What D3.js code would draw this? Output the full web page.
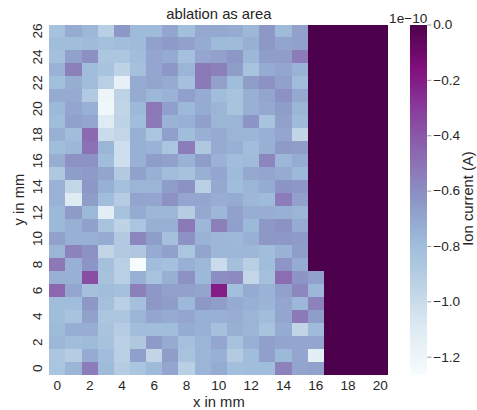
<!DOCTYPE html>
<html>
<head>
<meta charset="utf-8">
<script src="https://cdn.jsdelivr.net/npm/d3@7"></script>
<style>
  html, body { margin: 0; padding: 0; background: #fff; }
  text { font-family: "Liberation Sans", Arial, sans-serif; fill: #262626; }
  .domain { display: none; }
</style>
</head>
<body>
<div id="chart"></div>
<script>
// 軸的類別
const xValues = d3.range(0, 21);
const yValues = d3.range(26, -1, -1);
const xTickLabels = [0, 2, 4, 6, 8, 10, 12, 14, 16, 18, 20];
const yTickLabels = [0, 2, 4, 6, 8, 10, 12, 14, 16, 18, 20, 22, 24, 26];
const colorbarTicks = [0, -0.2, -0.4, -0.6, -0.8, -1.0, -1.2];
const colorDomain = [-1.265, 0];

// 離子電流，單位 1e-10 A，由上 (y=26) 到下 (y=0)，欄位 x=0..20
const ionCurrent = [
  [-0.83,-0.72,-0.77,-0.92,-0.64,-0.79,-0.79,-0.70,-0.81,-0.71,-0.71,-0.72,-0.77,-0.64,-0.79,-0.68,0,0,0,0,0],
  [-0.80,-0.80,-0.79,-0.82,-0.80,-0.79,-0.68,-0.65,-0.68,-0.72,-0.79,-0.79,-0.74,-0.64,-0.69,-0.68,0,0,0,0,0],
  [-0.82,-0.68,-0.61,-0.86,-0.86,-0.80,-0.70,-0.72,-0.82,-0.70,-0.68,-0.64,-0.77,-0.66,-0.66,-0.54,0,0,0,0,0],
  [-0.75,-0.55,-0.80,-0.84,-0.95,-0.82,-0.70,-0.64,-0.76,-0.53,-0.55,-0.66,-0.84,-0.72,-0.70,-0.75,0,0,0,0,0],
  [-0.81,-0.73,-0.80,-0.92,-1.15,-0.72,-0.69,-0.72,-0.82,-0.53,-0.68,-0.80,-0.66,-0.62,-0.68,-0.80,0,0,0,0,0],
  [-0.72,-0.72,-0.88,-1.20,-0.95,-0.72,-0.77,-0.75,-0.67,-0.72,-0.80,-0.84,-0.74,-0.69,-0.62,-0.71,0,0,0,0,0],
  [-0.78,-0.70,-0.74,-1.22,-0.96,-0.78,-0.52,-0.67,-0.78,-0.72,-0.76,-0.84,-0.74,-0.71,-0.66,-0.76,0,0,0,0,0],
  [-0.80,-0.68,-0.70,-1.10,-0.95,-0.80,-0.53,-0.75,-0.74,-0.67,-0.76,-0.76,-0.63,-0.84,-0.68,-0.79,0,0,0,0,0],
  [-0.74,-0.80,-0.47,-1.00,-0.97,-0.74,-0.85,-0.67,-0.80,-0.74,-0.72,-0.76,-0.76,-0.74,-0.70,-0.96,0,0,0,0,0],
  [-0.80,-0.77,-0.50,-0.76,-1.02,-0.74,-0.75,-0.85,-0.54,-0.87,-0.72,-0.74,-0.80,-0.74,-0.65,-0.66,0,0,0,0,0],
  [-0.73,-0.62,-0.62,-0.80,-1.02,-0.74,-0.66,-0.68,-0.75,-0.66,-0.75,-0.80,-0.79,-0.57,-0.77,-0.72,0,0,0,0,0],
  [-0.87,-0.66,-0.65,-0.69,-0.88,-0.68,-0.74,-0.80,-0.83,-0.74,-0.70,-0.79,-0.71,-0.70,-0.72,-0.78,0,0,0,0,0],
  [-0.75,-0.97,-0.64,-0.74,-0.82,-0.76,-0.76,-0.66,-0.62,-0.92,-0.71,-0.80,-0.76,-0.72,-0.63,-0.64,0,0,0,0,0],
  [-0.75,-1.10,-0.66,-0.80,-0.90,-0.69,-0.70,-0.62,-0.70,-0.70,-0.73,-0.72,-0.77,-0.79,-0.54,-0.68,0,0,0,0,0],
  [-0.78,-0.65,-0.78,-1.12,-0.83,-0.72,-0.77,-0.77,-0.90,-0.71,-0.77,-0.68,-0.73,-0.73,-0.74,-0.76,0,0,0,0,0],
  [-0.78,-0.74,-0.68,-0.84,-0.95,-0.85,-0.74,-0.74,-0.53,-0.77,-0.55,-0.67,-0.78,-0.64,-0.62,-0.72,0,0,0,0,0],
  [-0.68,-0.74,-0.74,-0.72,-0.88,-0.57,-0.66,-0.82,-0.62,-0.75,-0.77,-0.78,-0.74,-0.64,-0.64,-0.65,0,0,0,0,0],
  [-0.76,-0.56,-0.62,-0.96,-0.88,-0.87,-0.72,-0.68,-0.85,-0.69,-0.77,-0.77,-0.77,-0.80,-0.75,-0.66,0,0,0,0,0],
  [-0.52,-0.74,-0.63,-0.82,-0.92,-1.26,-0.80,-0.82,-0.74,-0.78,-1.00,-0.82,-0.92,-0.80,-0.63,-0.72,0,0,0,0,0],
  [-0.74,-0.74,-0.36,-0.83,-0.92,-0.74,-0.84,-0.74,-0.62,-0.78,-0.60,-0.59,-0.97,-0.82,-0.48,-0.63,-0.68,0,0,0,0],
  [-0.46,-0.70,-0.82,-0.80,-0.82,-0.55,-0.64,-0.68,-0.68,-0.69,-0.20,-0.81,-0.72,-0.75,-0.68,-0.58,-0.77,0,0,0,0],
  [-0.80,-0.80,-0.64,-0.82,-0.92,-0.82,-0.64,-0.66,-0.78,-0.64,-0.66,-0.72,-0.74,-0.76,-0.70,-0.77,-0.56,0,0,0,0],
  [-0.80,-0.84,-0.68,-0.86,-0.86,-0.76,-0.70,-0.72,-0.70,-0.74,-0.74,-0.73,-0.76,-0.80,-0.70,-0.53,-0.66,0,0,0,0],
  [-0.79,-0.73,-0.73,-0.84,-0.90,-0.80,-0.80,-0.80,-0.72,-0.74,-0.82,-0.74,-0.76,-0.84,-0.72,-0.96,-0.79,0,0,0,0],
  [-0.77,-0.80,-0.79,-0.83,-0.93,-0.87,-0.65,-0.72,-0.82,-0.76,-0.70,-0.83,-0.74,-0.67,-0.69,-0.70,-0.70,0,0,0,0],
  [-0.86,-0.90,-0.72,-0.80,-0.92,-0.67,-0.96,-0.66,-0.84,-0.76,-0.74,-0.89,-0.80,-0.67,-0.78,-0.70,-1.13,0,0,0,0],
  [-0.85,-0.76,-0.54,-0.79,-0.90,-0.85,-0.79,-0.70,-0.92,-0.76,-0.72,-0.81,-0.80,-0.80,-0.56,-0.69,-0.68,0,0,0,0]
];

const plot = { left: 49.3, right: 388.4, top: 24.5, bottom: 374.7 };
const cbar = { left: 410, right: 427.3 };
const tickFont = '13.6px';
const labelFont = '14.8px';

const svg = d3.select('#chart')
  .append('svg')
  .attr('width', 477)
  .attr('height', 410)
  .style('display', 'block');

const x = d3.scaleBand().domain(xValues).range([plot.left, plot.right]);
const y = d3.scaleBand().domain(yValues).range([plot.top, plot.bottom]);

// BuPu 九色，線性內插（同 matplotlib）
const buPu = d3.schemeBuPu[9];
const colorT = d3.scaleLinear().domain(colorDomain).range([0, 1]);
const ramp = d3.scaleLinear()
  .domain(d3.range(9).map(i => i / 8))
  .range(buPu)
  .interpolate(d3.interpolateRgb);
const color = v => ramp(colorT(v));

// 熱圖格子
const cells = ionCurrent.flatMap((row, r) =>
  row.map((v, c) => ({ xv: xValues[c], yv: yValues[r], v })));

svg.append('g')
  .attr('shape-rendering', 'crispEdges')
  .selectAll('rect')
  .data(cells)
  .join('rect')
  .attr('x', d => x(d.xv))
  .attr('y', d => y(d.yv))
  .attr('width', x.bandwidth())
  .attr('height', y.bandwidth())
  .attr('fill', d => color(d.v));

// 座標軸
const xAxis = svg.append('g')
  .attr('transform', `translate(0,${plot.bottom})`)
  .call(d3.axisBottom(x).tickValues(xTickLabels).tickSize(0).tickPadding(6));
xAxis.selectAll('text').style('font-size', tickFont).attr('fill', '#262626');

const yAxis = svg.append('g')
  .attr('transform', `translate(${plot.left},0)`)
  .call(d3.axisLeft(y).tickValues(yTickLabels).tickSize(0).tickPadding(0));
yAxis.selectAll('text')
  .style('font-size', tickFont)
  .attr('fill', '#262626')
  .attr('text-anchor', 'middle')
  .attr('dy', null)
  .attr('x', null)
  .attr('transform', 'translate(-7.5,0) rotate(-90)');

// 標題與軸標籤
svg.append('text')
  .attr('x', (plot.left + plot.right) / 2)
  .attr('y', 19)
  .attr('text-anchor', 'middle')
  .style('font-size', labelFont)
  .text('ablation as area');

svg.append('text')
  .attr('x', (plot.left + plot.right) / 2)
  .attr('y', 407)
  .attr('text-anchor', 'middle')
  .style('font-size', labelFont)
  .text('x in mm');

svg.append('text')
  .attr('transform', `translate(24,${(plot.top + plot.bottom) / 2}) rotate(-90)`)
  .attr('text-anchor', 'middle')
  .style('font-size', labelFont)
  .text('y in mm');

// 色條
const cbarY = d3.scaleLinear().domain(colorDomain).range([plot.bottom, plot.top]);
const cbarSteps = d3.range(0, 256).map(i => colorDomain[0] + (colorDomain[1] - colorDomain[0]) * i / 255);

svg.append('g')
  .attr('shape-rendering', 'crispEdges')
  .selectAll('rect')
  .data(cbarSteps)
  .join('rect')
  .attr('x', cbar.left)
  .attr('width', cbar.right - cbar.left)
  .attr('y', d => Math.max(plot.top, cbarY(d) - 1))
  .attr('height', d => Math.min(2, plot.bottom - Math.max(plot.top, cbarY(d) - 1)))
  .attr('fill', d => color(d));

const cbarAxis = svg.append('g')
  .attr('transform', `translate(${cbar.right},0)`)
  .call(d3.axisRight(cbarY)
    .tickValues(colorbarTicks)
    .tickFormat(d => d === 0 ? '0.0' : d3.format('.1f')(d))
    .tickSize(4)
    .tickPadding(2));
cbarAxis.selectAll('line').attr('stroke', '#808080').attr('stroke-width', 0.8);
cbarAxis.selectAll('text').style('font-size', tickFont).attr('fill', '#262626');

svg.append('text')
  .attr('x', cbar.right)
  .attr('y', 22.5)
  .attr('text-anchor', 'end')
  .style('font-size', tickFont)
  .text('1e\u221210');

svg.append('text')
  .attr('transform', `translate(473,198.5) rotate(-90)`)
  .attr('text-anchor', 'middle')
  .style('font-size', labelFont)
  .text('Ion current (A)');
</script>
</body>
</html>
